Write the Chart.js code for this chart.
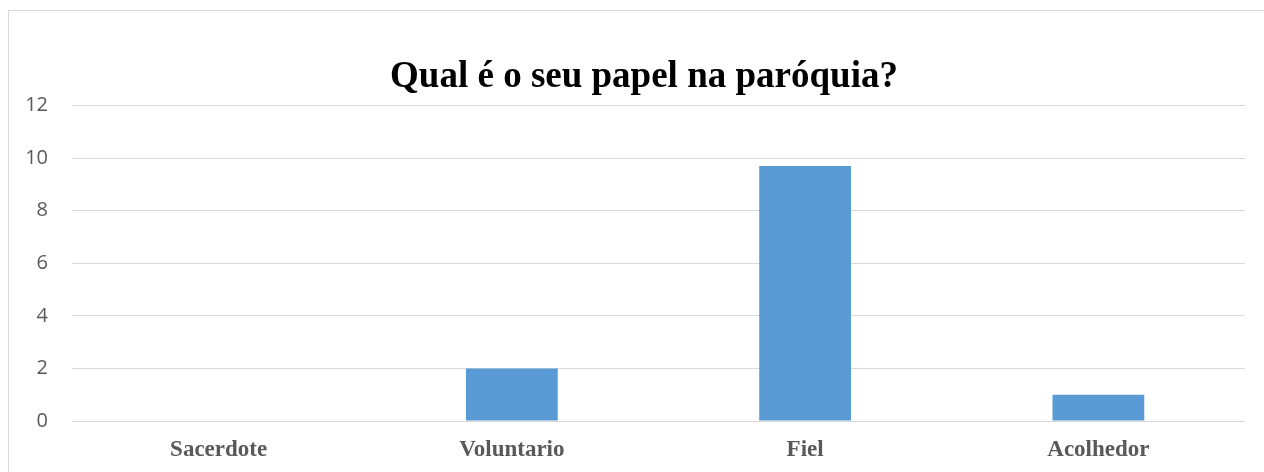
<!DOCTYPE html>
<html>
<head>
<meta charset="utf-8">
<script src="https://cdn.jsdelivr.net/npm/chart.js@4/dist/chart.umd.min.js"></script>
<style>
  body { margin: 0; background: #fff; overflow: hidden; }
  #box { position: absolute; left: 8px; top: 10px; width: 1270px; height: 480px; border: 1px solid #d9d9d9; }
</style>
</head>
<body>
<div id="box"><canvas id="myChart"></canvas></div>
<script>
const chartTitle = 'Qual é o seu papel na paróquia?';
const categories = ['Sacerdote', 'Voluntario', 'Fiel', 'Acolhedor'];
const answers = [0, 2, 9.7, 1];
const yMin = 0, yMax = 12, yStep = 2;

const ctx = document.getElementById('myChart').getContext('2d');
const barChart = new Chart(ctx, {
  type: 'bar',
  data: {
    labels: categories,
    datasets: [{
      label: 'Respostas',
      data: answers,
      backgroundColor: '#5b9bd5',
      borderWidth: 0,
      barPercentage: 0.313,
      categoryPercentage: 1
    }]
  },
  options: {
    responsive: true,
    maintainAspectRatio: false,
    animation: false,
    layout: { padding: 0 },
    plugins: {
      legend: { display: false },
      tooltip: { enabled: false },
      title: {
        display: true,
        text: chartTitle,
        color: '#000',
        font: { family: 'Liberation Serif', size: 37, weight: 'bold' },
        padding: { top: 44, bottom: 6 }
      }
    },
    scales: {
      x: {
        grid: { display: false },
        border: { display: false },
        ticks: {
          color: '#595959',
          padding: 7,
          font: { family: 'Liberation Serif', size: 23, weight: 'bold' }
        },
        afterFit(scale) { scale.height = 70; }
      },
      y: {
        min: yMin,
        max: yMax,
        grid: { color: '#d9d9d9', drawTicks: false },
        border: { display: false },
        ticks: {
          stepSize: yStep,
          color: '#595959',
          padding: 24,
          font: { family: 'Open Sans', size: 20 }
        },
        afterFit(scale) { scale.width = 63; }
      },
      // empty right-hand space, only keeps the plot clear of the edge
      spacer: {
        type: 'linear',
        position: 'right',
        grid: { display: false },
        border: { display: false },
        ticks: { display: false },
        afterFit(scale) { scale.width = 34; }
      }
    }
  }
});
</script>
</body>
</html>
